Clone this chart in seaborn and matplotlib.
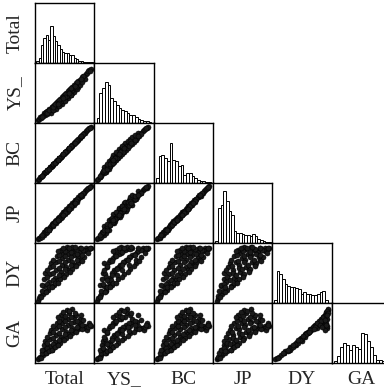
import matplotlib
matplotlib.use("Agg")
import matplotlib.pyplot as plt
import seaborn as sns
import pandas as pd

sns.set_style("white")
plt.rcParams['font.family'] = ['Liberation Serif', 'DejaVu Serif']

variables = ["Total", "YS_", "BC", "JP", "DY", "GA"]

# scatter data (normalised to each variable's axis range)
total = [0.05, 0.07, 0.09, 0.13, 0.15, 0.16, 0.18, 0.17, 0.22, 0.24, 0.25, 0.26, 0.28, 0.27,
         0.32, 0.33, 0.35, 0.36, 0.37, 0.38, 0.42, 0.43, 0.45, 0.46, 0.47, 0.48, 0.44,
         0.52, 0.53, 0.55, 0.56, 0.57, 0.58, 0.54, 0.62, 0.63, 0.65, 0.66, 0.62, 0.68,
         0.72, 0.73, 0.75, 0.76, 0.78, 0.82, 0.84, 0.86, 0.88, 0.91, 0.94,
         0.10, 0.11, 0.12, 0.19, 0.20, 0.21, 0.20, 0.23, 0.29, 0.30, 0.31, 0.30, 0.31, 0.34,
         0.39, 0.40, 0.41, 0.40, 0.41, 0.39, 0.49, 0.50, 0.51, 0.50, 0.51, 0.48,
         0.59, 0.60, 0.61, 0.60, 0.58, 0.69, 0.70, 0.71, 0.69, 0.67, 0.79, 0.80, 0.81, 0.78,
         0.90, 0.92]
ys = [0.05, 0.06, 0.10, 0.12, 0.17, 0.13, 0.19, 0.14, 0.20, 0.24, 0.18, 0.22, 0.27, 0.17,
      0.30, 0.26, 0.33, 0.24, 0.35, 0.28, 0.40, 0.33, 0.43, 0.32, 0.45, 0.38, 0.36,
      0.50, 0.42, 0.53, 0.41, 0.55, 0.47, 0.45, 0.60, 0.50, 0.63, 0.52, 0.55, 0.58,
      0.70, 0.60, 0.72, 0.64, 0.70, 0.78, 0.74, 0.82, 0.84, 0.88, 0.90,
      0.09, 0.12, 0.10, 0.18, 0.15, 0.20, 0.16, 0.22, 0.27, 0.22, 0.29, 0.21, 0.26, 0.32,
      0.37, 0.30, 0.39, 0.29, 0.34, 0.32, 0.47, 0.38, 0.49, 0.37, 0.43, 0.41,
      0.57, 0.47, 0.59, 0.46, 0.50, 0.67, 0.56, 0.69, 0.60, 0.62, 0.76, 0.68, 0.78, 0.73,
      0.86, 0.87]
bc = [0.05, 0.07, 0.10, 0.13, 0.16, 0.16, 0.18, 0.18, 0.22, 0.24, 0.26, 0.26, 0.28, 0.27,
      0.33, 0.33, 0.35, 0.36, 0.38, 0.38, 0.42, 0.44, 0.45, 0.46, 0.48, 0.48, 0.44,
      0.52, 0.54, 0.55, 0.56, 0.58, 0.58, 0.54, 0.63, 0.63, 0.65, 0.67, 0.62, 0.68,
      0.72, 0.74, 0.75, 0.77, 0.78, 0.83, 0.84, 0.86, 0.89, 0.91, 0.94,
      0.10, 0.11, 0.12, 0.19, 0.20, 0.21, 0.21, 0.23, 0.29, 0.30, 0.31, 0.31, 0.31, 0.34,
      0.39, 0.40, 0.41, 0.41, 0.41, 0.39, 0.49, 0.50, 0.51, 0.51, 0.51, 0.48,
      0.59, 0.60, 0.61, 0.61, 0.58, 0.69, 0.70, 0.71, 0.70, 0.67, 0.79, 0.80, 0.81, 0.78,
      0.90, 0.92]
jp = [0.06, 0.08, 0.08, 0.15, 0.14, 0.19, 0.17, 0.18, 0.24, 0.22, 0.27, 0.25, 0.30, 0.28,
      0.33, 0.36, 0.34, 0.39, 0.36, 0.40, 0.43, 0.46, 0.44, 0.49, 0.46, 0.51, 0.42,
      0.53, 0.56, 0.54, 0.59, 0.56, 0.61, 0.52, 0.63, 0.66, 0.64, 0.69, 0.64, 0.71,
      0.73, 0.77, 0.76, 0.80, 0.79, 0.84, 0.87, 0.88, 0.90, 0.92, 0.95,
      0.12, 0.10, 0.13, 0.21, 0.19, 0.23, 0.22, 0.21, 0.31, 0.29, 0.33, 0.32, 0.30, 0.35,
      0.41, 0.39, 0.43, 0.42, 0.40, 0.38, 0.51, 0.49, 0.53, 0.52, 0.50, 0.47,
      0.61, 0.59, 0.63, 0.62, 0.57, 0.71, 0.69, 0.73, 0.70, 0.66, 0.81, 0.79, 0.83, 0.80,
      0.91, 0.93]
dy = [0.04, 0.08, 0.12, 0.15, 0.28, 0.40, 0.20, 0.50, 0.22, 0.35, 0.48, 0.60, 0.28, 0.66,
      0.30, 0.42, 0.55, 0.68, 0.78, 0.38, 0.40, 0.52, 0.64, 0.75, 0.84, 0.46, 0.88,
      0.48, 0.60, 0.72, 0.82, 0.90, 0.55, 0.93, 0.57, 0.68, 0.80, 0.88, 0.94, 0.64,
      0.66, 0.76, 0.85, 0.92, 0.72, 0.76, 0.86, 0.92, 0.88, 0.90, 0.92,
      0.10, 0.20, 0.30, 0.18, 0.32, 0.44, 0.55, 0.26, 0.26, 0.38, 0.50, 0.62, 0.72, 0.34,
      0.34, 0.46, 0.58, 0.70, 0.80, 0.86, 0.44, 0.56, 0.68, 0.79, 0.87, 0.91,
      0.52, 0.64, 0.76, 0.85, 0.92, 0.61, 0.72, 0.82, 0.90, 0.93, 0.70, 0.80, 0.88, 0.92,
      0.84, 0.91]
ga = [0.06, 0.08, 0.10, 0.13, 0.22, 0.30, 0.16, 0.36, 0.20, 0.28, 0.40, 0.50, 0.22, 0.55,
      0.26, 0.35, 0.46, 0.58, 0.66, 0.30, 0.34, 0.44, 0.56, 0.66, 0.74, 0.40, 0.80,
      0.42, 0.52, 0.64, 0.74, 0.84, 0.48, 0.88, 0.50, 0.58, 0.68, 0.76, 0.90, 0.54,
      0.56, 0.62, 0.68, 0.74, 0.58, 0.58, 0.62, 0.58, 0.55, 0.66, 0.62,
      0.09, 0.16, 0.22, 0.16, 0.25, 0.34, 0.44, 0.20, 0.22, 0.31, 0.42, 0.52, 0.61, 0.27,
      0.30, 0.39, 0.50, 0.61, 0.70, 0.76, 0.38, 0.48, 0.60, 0.70, 0.79, 0.85,
      0.45, 0.55, 0.66, 0.76, 0.86, 0.52, 0.60, 0.70, 0.80, 0.84, 0.56, 0.64, 0.72, 0.80,
      0.60, 0.64]

df = pd.DataFrame({"Total": total, "YS_": ys, "BC": bc, "JP": jp, "DY": dy, "GA": ga})

# histogram bin counts
hist_total = [3, 8, 30, 42, 47, 38, 62, 45, 36, 30, 24, 18, 16, 17, 13, 14, 9, 6, 4, 3, 2, 2, 1, 1]
hist_ys = [15, 90, 105, 123, 115, 75, 65, 55, 45, 40, 35, 30, 25, 23, 17, 12, 10, 7, 5, 3]
hist_bc = [15, 80, 85, 75, 65, 120, 70, 65, 50, 53, 25, 30, 30, 20, 15, 10, 7, 5, 3, 2]
hist_jp = [5, 105, 115, 155, 125, 95, 85, 35, 30, 30, 27, 25, 23, 20, 27, 20, 13, 10, 7, 3, 2]
hist_dy = [10, 97, 87, 72, 57, 52, 47, 47, 44, 42, 27, 32, 27, 27, 25, 24, 27, 32, 37, 9]
hist_ga = [3, 10, 25, 30, 28, 20, 28, 25, 22, 46, 44, 33, 25, 12, 5, 4, 3, 2]
hists = {"Total": (hist_total, 0.02, 0.97, 0.62),
         "YS_": (hist_ys, 0.04, 0.96, 0.68),
         "BC": (hist_bc, 0.04, 0.96, 0.67),
         "JP": (hist_jp, 0.04, 0.97, 0.86),
         "DY": (hist_dy, 0.03, 0.93, 0.54),
         "GA": (hist_ga, 0.04, 0.94, 0.50)}

fig, axes = plt.subplots(6, 6, figsize=(3.84, 3.87), dpi=100)
fig.subplots_adjust(left=35/384, right=391/384, top=1-3/387, bottom=1-363/387,
                    wspace=0, hspace=0)

for i, yv in enumerate(variables):
    for j, xv in enumerate(variables):
        ax = axes[i, j]
        if j > i:
            ax.axis("off")
            continue
        if i == j:
            counts, lo, hi, frac = hists[xv]
            nb = len(counts)
            w = (hi - lo) / nb
            centers = [lo + w * (k + 0.5) for k in range(nb)]
            hd = pd.DataFrame({"x": centers, "w": counts})
            sns.histplot(data=hd, x="x", weights="w", bins=nb, binrange=(lo, hi), ax=ax,
                         color="white", edgecolor="black", linewidth=0.7, alpha=1)
            ax.set_ylim(0, max(counts) / frac)
        else:
            sns.scatterplot(data=df, x=xv, y=yv, ax=ax, s=13, color="0.1",
                            edgecolor="black", linewidth=0.4, legend=False)
            ax.set_ylim(0, 1)
        ax.set_xlim(0, 1)
        ax.set_xticks([]); ax.set_yticks([])
        ax.set_xlabel(""); ax.set_ylabel("")
        for sp in ax.spines.values():
            sp.set_visible(True)
            sp.set_color("black")
            sp.set_linewidth(1.0)

W, H = 384, 387
for k, v in enumerate(variables):
    p = axes[5, k].get_position()
    fig.text((p.x0 + p.x1) / 2, 1 - 380/H, v, ha="center", va="center", fontsize=14)
    q = axes[k, 0].get_position()
    fig.text(15/W, (q.y0 + q.y1) / 2, v, ha="center", va="center", rotation=90, fontsize=14)

fig.savefig("out.png", dpi=100)
